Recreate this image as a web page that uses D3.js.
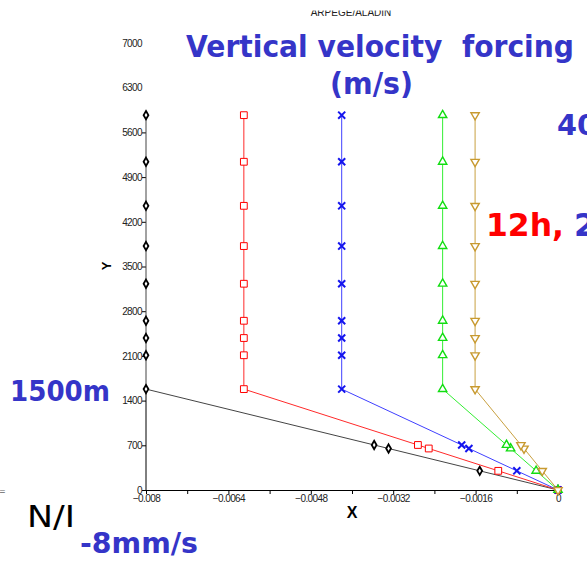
<!DOCTYPE html>
<html>
<head>
<meta charset="utf-8">
<script src="https://cdn.jsdelivr.net/npm/d3@7"></script>
<style>
  html,body{margin:0;padding:0;background:#fff;overflow:hidden;}
  svg{display:block;}
  .tk text{font-family:"Liberation Sans",Arial,sans-serif;font-size:10px;fill:#222;letter-spacing:-0.6px;}
  .big{font-family:"Comic Sans MS","DejaVu Sans",sans-serif;font-weight:bold;white-space:pre;}
</style>
</head>
<body>
<svg id="chart" width="587" height="562"></svg>
<script>
/* heights of the model levels (m) */
const levels = [0, 300, 650, 705, 1580, 2110, 2380, 2650, 3230, 3820, 4450, 5140, 5870];

/* vertical velocity forcing (m/s) per run */
const wBlack = [0, -0.00152, -0.00329, -0.00357, -0.008, -0.008, -0.008, -0.008, -0.008, -0.008, -0.008, -0.008, -0.008];
const wRed   = [0, -0.00116, -0.00251, -0.00272, -0.0061, -0.0061, -0.0061, -0.0061, -0.0061, -0.0061, -0.0061, -0.0061, -0.0061];
const wBlue  = [0, -0.0008, -0.00173, -0.00187, -0.0042, -0.0042, -0.0042, -0.0042, -0.0042, -0.0042, -0.0042, -0.0042, -0.0042];
const wGreen = [0, -0.000425, -0.00092, -0.001, -0.00224, -0.00224, -0.00224, -0.00224, -0.00224, -0.00224, -0.00224, -0.00224, -0.00224];
const wGold  = [0, -0.000306, -0.00066, -0.00072, -0.00161, -0.00161, -0.00161, -0.00161, -0.00161, -0.00161, -0.00161, -0.00161, -0.00161];

const xTicks = [-0.008, -0.0072, -0.0064, -0.0056, -0.0048, -0.004, -0.0032, -0.0024, -0.0016, -0.0008, 0];
const xLabels = [-0.008, -0.0064, -0.0048, -0.0032, -0.0016, 0];
const yTicks = [0, 700, 1400, 2100, 2800, 3500, 4200, 4900, 5600, 6300, 7000];

const svg = d3.select("#chart");
const x = d3.scaleLinear().domain([-0.008, 0]).range([146, 558]);
const y = d3.scaleLinear().domain([0, 7000]).range([490, 43]);

/* ---- axes ---- */
const gx = svg.append("g").attr("class","tk").attr("transform","translate(0,490)")
  .call(d3.axisBottom(x).tickValues(xTicks).tickSize(4)
    .tickFormat(v => xLabels.some(l => Math.abs(l - v) < 1e-9) ? (v === 0 ? "0" : d3.format(".4~f")(v)) : ""));
gx.select(".domain").attr("stroke","#000");
gx.selectAll(".tick line").attr("stroke","#000");
gx.selectAll(".tick text").attr("dy","0.45em");

const gy = svg.append("g").attr("class","tk").attr("transform","translate(146,0)")
  .call(d3.axisLeft(y).tickValues(yTicks).tickSize(4).tickFormat(d3.format("d")));
gy.select(".domain").remove();
gy.selectAll(".tick line").attr("stroke","#000").attr("display", d => d > 6000 ? "none" : null);
gy.selectAll(".tick text").attr("x", -4);
svg.append("line").attr("x1", x(-0.008)).attr("x2", x(-0.008))
  .attr("y1", y(0)).attr("y2", y(levels[4])).attr("stroke","#000");

svg.append("text").attr("x",352).attr("y",518).attr("text-anchor","middle")
  .style("font-family","Liberation Sans,Arial,sans-serif").style("font-weight","bold").style("font-size","16px").text("X");
svg.append("text").attr("transform","translate(111,266) rotate(-90)").attr("text-anchor","middle")
  .style("font-family","Liberation Sans,Arial,sans-serif").style("font-weight","bold").style("font-size","13px").text("Y");

/* small header, cut at the top edge */
svg.append("clipPath").attr("id","hc").append("rect").attr("x",0).attr("y",10.5).attr("width",587).attr("height",20);
svg.append("text").attr("clip-path","url(#hc)").attr("x",351).attr("y",16).attr("text-anchor","middle")
  .style("font-family","Liberation Sans,Arial,sans-serif").style("font-size","10px").style("fill","#222")
  .text("ARPEGE/ALADIN");

/* ---- series ---- */
const series = [
  {vals:wBlack, line:"#444", mark:"#000", sym:d3.symbolDiamond, size:20, sw:1.8, rot:0},
  {vals:wRed,   line:"#ff2a2a", mark:"#ff0000", sym:d3.symbolSquare, size:46, sw:1, rot:0},
  {vals:wBlue,  line:"#4040ff", mark:"#1515ee", sym:d3.symbolTimes || d3.symbolX, size:34, sw:2, rot:0},
  {vals:wGreen, line:"#33ee33", mark:"#11dd11", sym:d3.symbolTriangle, size:30, sw:1.4, rot:0},
  {vals:wGold,  line:"#c8a040", mark:"#c89a30", sym:d3.symbolTriangle, size:30, sw:1.4, rot:180}
];
const lineGen = d3.line().x(d => x(d[0])).y(d => y(d[1]));
series.forEach(s => {
  const pts = s.vals.map((v,i) => [v, levels[i]]);
  svg.append("path").datum(pts).attr("d", lineGen)
    .attr("fill","none").attr("stroke", s.line).attr("stroke-width",1);
  svg.append("g").selectAll("path").data(pts).join("path")
    .attr("transform", d => `translate(${x(d[0])},${y(d[1])}) rotate(${s.rot})`)
    .attr("d", d3.symbol(s.sym, s.size))
    .attr("fill","#fff").attr("stroke", s.mark).attr("stroke-width", s.sw);
});

/* ---- annotations ---- */
const blue = "#3535c8";
function big(t, xx, yy, size, color, len, weight){
  const el = svg.append("text").attr("class","big").attr("x",xx).attr("y",yy)
    .style("font-size", size+"px").style("fill", color).text(t);
  if(weight) el.style("font-weight", weight);
  if(len) el.attr("textLength", len).attr("lengthAdjust","spacingAndGlyphs");
  return el;
}
big("Vertical velocity  forcing", 186, 57, 30, blue, 388);
big("(m/s)", 330, 94, 30, blue, 83);
big("40", 557, 135, 28, blue, 40);
big("12h,", 486, 236, 32, "#ff0000", 78);
big("2", 574, 236, 32, blue, 22);
big("1500m", 10, 401, 29, blue, 100);
big("N/I", 27, 527, 30, "#000", 48, "normal");
big("-8mm/s", 80, 553, 29, blue, 118);
svg.append("text").attr("x",-1).attr("y",494).style("font-size","8px").style("fill","#666")
  .style("font-family","DejaVu Sans,sans-serif").text("=");
</script>
</body>
</html>
